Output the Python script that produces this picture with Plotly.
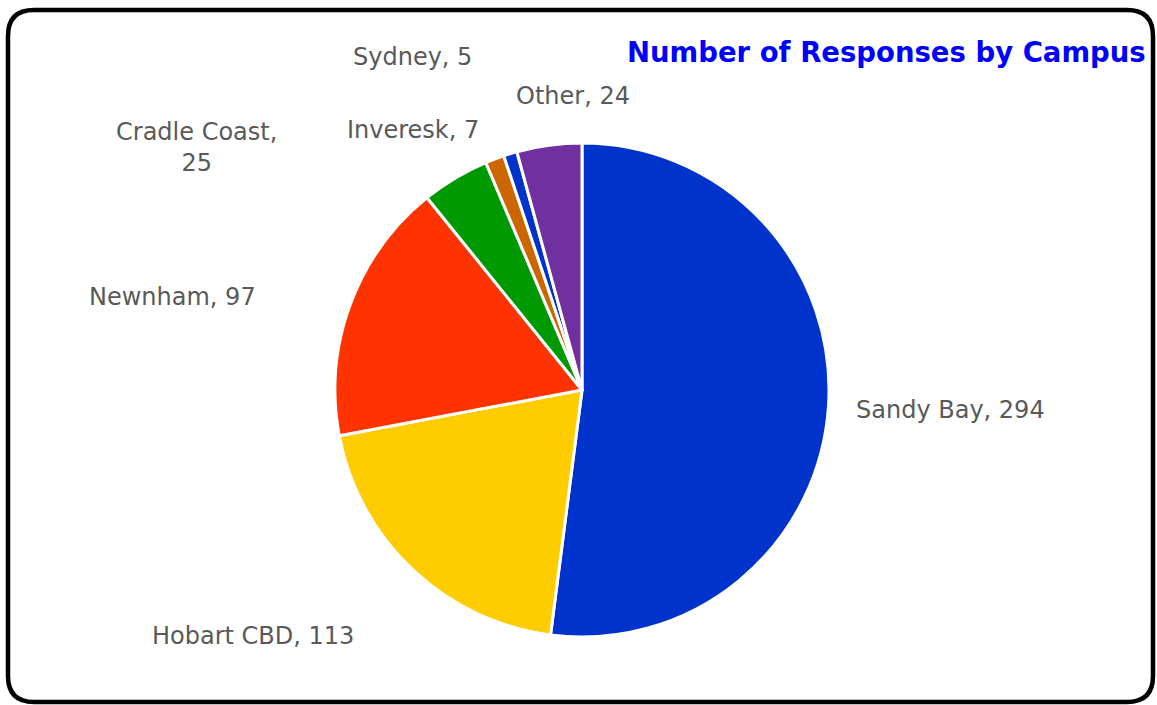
import plotly.graph_objects as go

# Survey responses by campus
campuses = ["Sandy Bay", "Hobart CBD", "Newnham", "Cradle Coast", "Inveresk", "Sydney", "Other"]
responses = [294, 113, 97, 25, 7, 5, 24]
colors = ["#0033CC", "#FFCC00", "#FF3300", "#009900", "#CC6600", "#0033CC", "#7030A0"]

W, H = 1157, 705

# Label anchor points (pixels from top-left); line breaks per label
label_px = [(950, 410), (253, 636), (172, 297), (196, 148), (413, 130), (412, 57), (573, 96)]
label_sep = [", ", ", ", ", ", ",<br>", ", ", ", ", ", "]

FONT = "DejaVu Sans"

fig = go.Figure(go.Pie(
    labels=campuses,
    values=responses,
    sort=False,
    direction="clockwise",
    rotation=0,
    marker=dict(colors=colors, line=dict(color="white", width=3)),
    textinfo="none",
    hoverinfo="label+value",
    domain=dict(x=[335 / W, 829 / W], y=[1 - 637 / H, 1 - 143 / H]),
    showlegend=False,
))

annotations = []
for name, val, sep, (px, py) in zip(campuses, responses, label_sep, label_px):
    annotations.append(dict(
        x=px / W, y=1 - py / H, xref="paper", yref="paper",
        text=f"{name}{sep}{val}", showarrow=False, xanchor="center", yanchor="middle",
        font=dict(family=FONT, size=24, color="#595959"),
    ))

annotations.append(dict(
    x=1148 / W, y=1 - 52 / H, xref="paper", yref="paper",
    text="<b>Number of Responses by Campus</b>", showarrow=False,
    xanchor="right", yanchor="middle",
    font=dict(family=FONT, size=27.5, color="#0000FF"),
))

# Rounded frame around the chart area
def P(x, y):
    return f"{x / W:.5f},{1 - y / H:.5f}"

L, T, R, B, rad = 8, 10, 1153, 702, 26
path = (f"M {P(L + rad, T)} L {P(R - rad, T)} Q {P(R, T)} {P(R, T + rad)} "
        f"L {P(R, B - rad)} Q {P(R, B)} {P(R - rad, B)} "
        f"L {P(L + rad, B)} Q {P(L, B)} {P(L, B - rad)} "
        f"L {P(L, T + rad)} Q {P(L, T)} {P(L + rad, T)} Z")

fig.update_layout(
    width=W, height=H,
    margin=dict(l=0, r=0, t=0, b=0),
    paper_bgcolor="white",
    plot_bgcolor="white",
    annotations=annotations,
    shapes=[dict(type="path", path=path, xref="paper", yref="paper",
                 line=dict(color="black", width=4.5), layer="above")],
)

fig.write_html("out.html")
